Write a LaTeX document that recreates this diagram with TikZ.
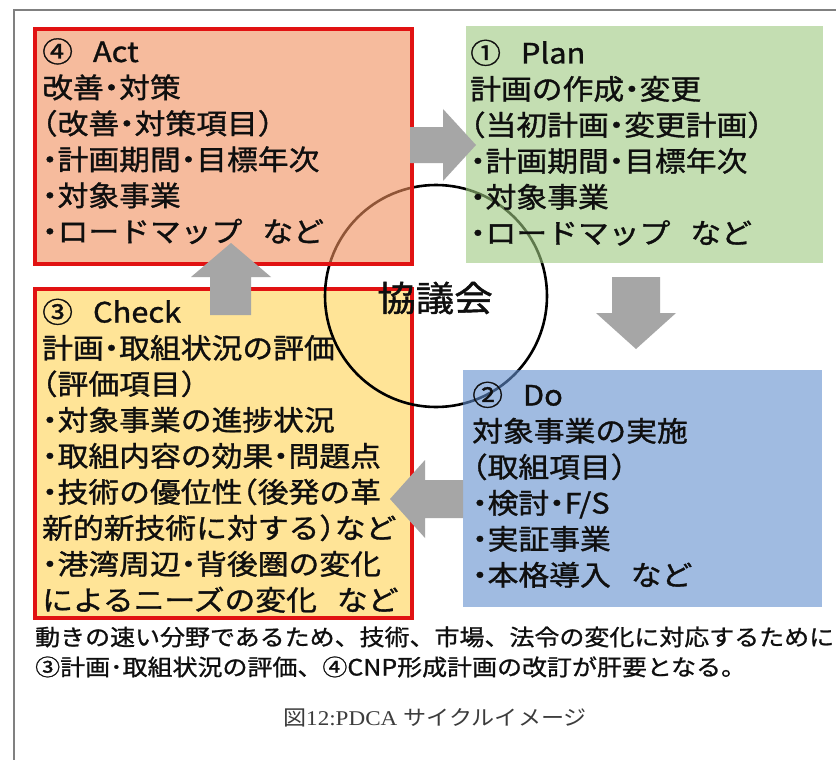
\documentclass[tikz,border=0pt]{standalone}
\usepackage{fontspec}
\newfontfamily\jp[FakeStretch=1.1,FakeBold=1.2,RawFeature=+halt]{Noto Sans CJK JP}
\newfontfamily\jpw[FakeStretch=1.11,FakeBold=1.0]{Noto Sans CJK JP}
\newfontfamily\jpc[FakeStretch=1.1]{Noto Sans CJK JP}
\newfontfamily\capser[FakeStretch=1.1]{Liberation Serif}
\definecolor{framec}{RGB}{128,128,128}
\definecolor{redc}{RGB}{225,18,18}
\definecolor{actc}{RGB}{240,143,93}
\definecolor{planc}{RGB}{157,200,127}
\definecolor{doc}{RGB}{97,142,205}
\definecolor{checkc}{RGB}{255,228,151}
\definecolor{arrowc}{RGB}{166,166,166}
\definecolor{inkc}{RGB}{15,15,15}
\definecolor{capc}{RGB}{60,60,60}
\tikzset{
  redbox/.style={rectangle, draw=redc, line width=4pt, inner sep=0pt},
  softbox/.style={rectangle, draw=none, fill opacity=0.6, inner sep=0pt},
  boxtext/.style={anchor=base west, inner sep=0pt, text width=375pt, align=left, text=inkc,
    font=\jp\fontsize{28}{36}\selectfont},
  blockarrow/.style={fill=arrowc, draw=none},
}
\begin{document}
\begin{tikzpicture}[x=1pt,y=-1pt]
\useasboundingbox (0,0) rectangle (836,760);
\fill[white] (0,0) rectangle (836,760);
\draw[framec, line width=1.5pt] (14,761) -- (14,10) -- (837,10);

% Check box (opaque, beneath circle)
\node[redbox, fill=checkc, anchor=north west, minimum width=377pt, minimum height=329pt] (check) at (33,287) {};

% council circle
\node[circle, draw=black, line width=2.6pt, minimum size=222pt, inner sep=0pt] (council) at (436,296) {};

% translucent boxes over circle
\node[redbox, fill=actc, fill opacity=0.6, anchor=north west, minimum width=377pt, minimum height=235pt] (act) at (33,27) {};
\node[softbox, fill=planc, anchor=north west, minimum width=357pt, minimum height=237pt] (plan) at (466,26) {};
\node[softbox, fill=doc, anchor=north west, minimum width=359pt, minimum height=237pt] (do) at (463,370) {};

% block arrows
\fill[blockarrow] (410,127) -- (443,127) -- (443,109) -- (476,145) -- (443,181) -- (443,163) -- (410,163) -- cycle;
\fill[blockarrow] (612,277) -- (660,277) -- (660,313) -- (676,313) -- (636,349) -- (596,313) -- (612,313) -- cycle;
\fill[blockarrow] (463,480) -- (425,480) -- (425,460) -- (390,499) -- (425,538) -- (425,518) -- (463,518) -- cycle;
\fill[blockarrow] (210,315) -- (210,277) -- (191,277) -- (231,243) -- (271,277) -- (251,277) -- (251,315) -- cycle;

% box texts
\node[boxtext] (actT) at (42,62) {④\hspace{20pt}Act\\改善・対策\\（改善・対策項目）\\・計画期間・目標年次\\・対象事業\\・ロードマップ\hspace{20pt}など};
\node[boxtext] (planT) at (470,63.5) {①\hspace{20pt}Plan\\計画の作成・変更\\（当初計画・変更計画）\\・計画期間・目標年次\\・対象事業\\・ロードマップ\hspace{20pt}など};
\node[boxtext] (checkT) at (42,322.5) {③\hspace{20pt}Check\\計画・取組状況の評価\\（評価項目）\\・対象事業の進捗状況\\・取組内容の効果・問題点\\・技術の優位性（後発の革\\新的新技術に対する）など\\・港湾周辺・背後圏の変化\\によるニーズの変化\hspace{20pt}など};
\node[boxtext] (doT) at (472,405.5) {②\hspace{20pt}Do\\対象事業の実施\\（取組項目）\\・検討・F/S\\・実証事業\\・本格導入\hspace{20pt}など};

% council label
\node[inner sep=0pt, text=inkc, font=\jp\fontsize{35}{40}\selectfont] (councilT) at (435,298) {協議会};

% note below
\node[anchor=base west, inner sep=0pt, text width=800pt, align=left, text=inkc, font=\jpw\fontsize{22.5}{30}\selectfont] (note) at (35,645.5) {動きの速い分野であるため、技術、市場、法令の変化に対応するために\\③計画･取組状況の評価、④CNP形成計画の改訂が肝要となる。};

% caption
\node[inner sep=0pt, text=capc, font=\fontsize{21}{24}\selectfont] (caption) at (435,718) {{\jpc 図}{\capser 12:PDCA} {\jpc サイクルイメージ}};
\end{tikzpicture}
\end{document}
